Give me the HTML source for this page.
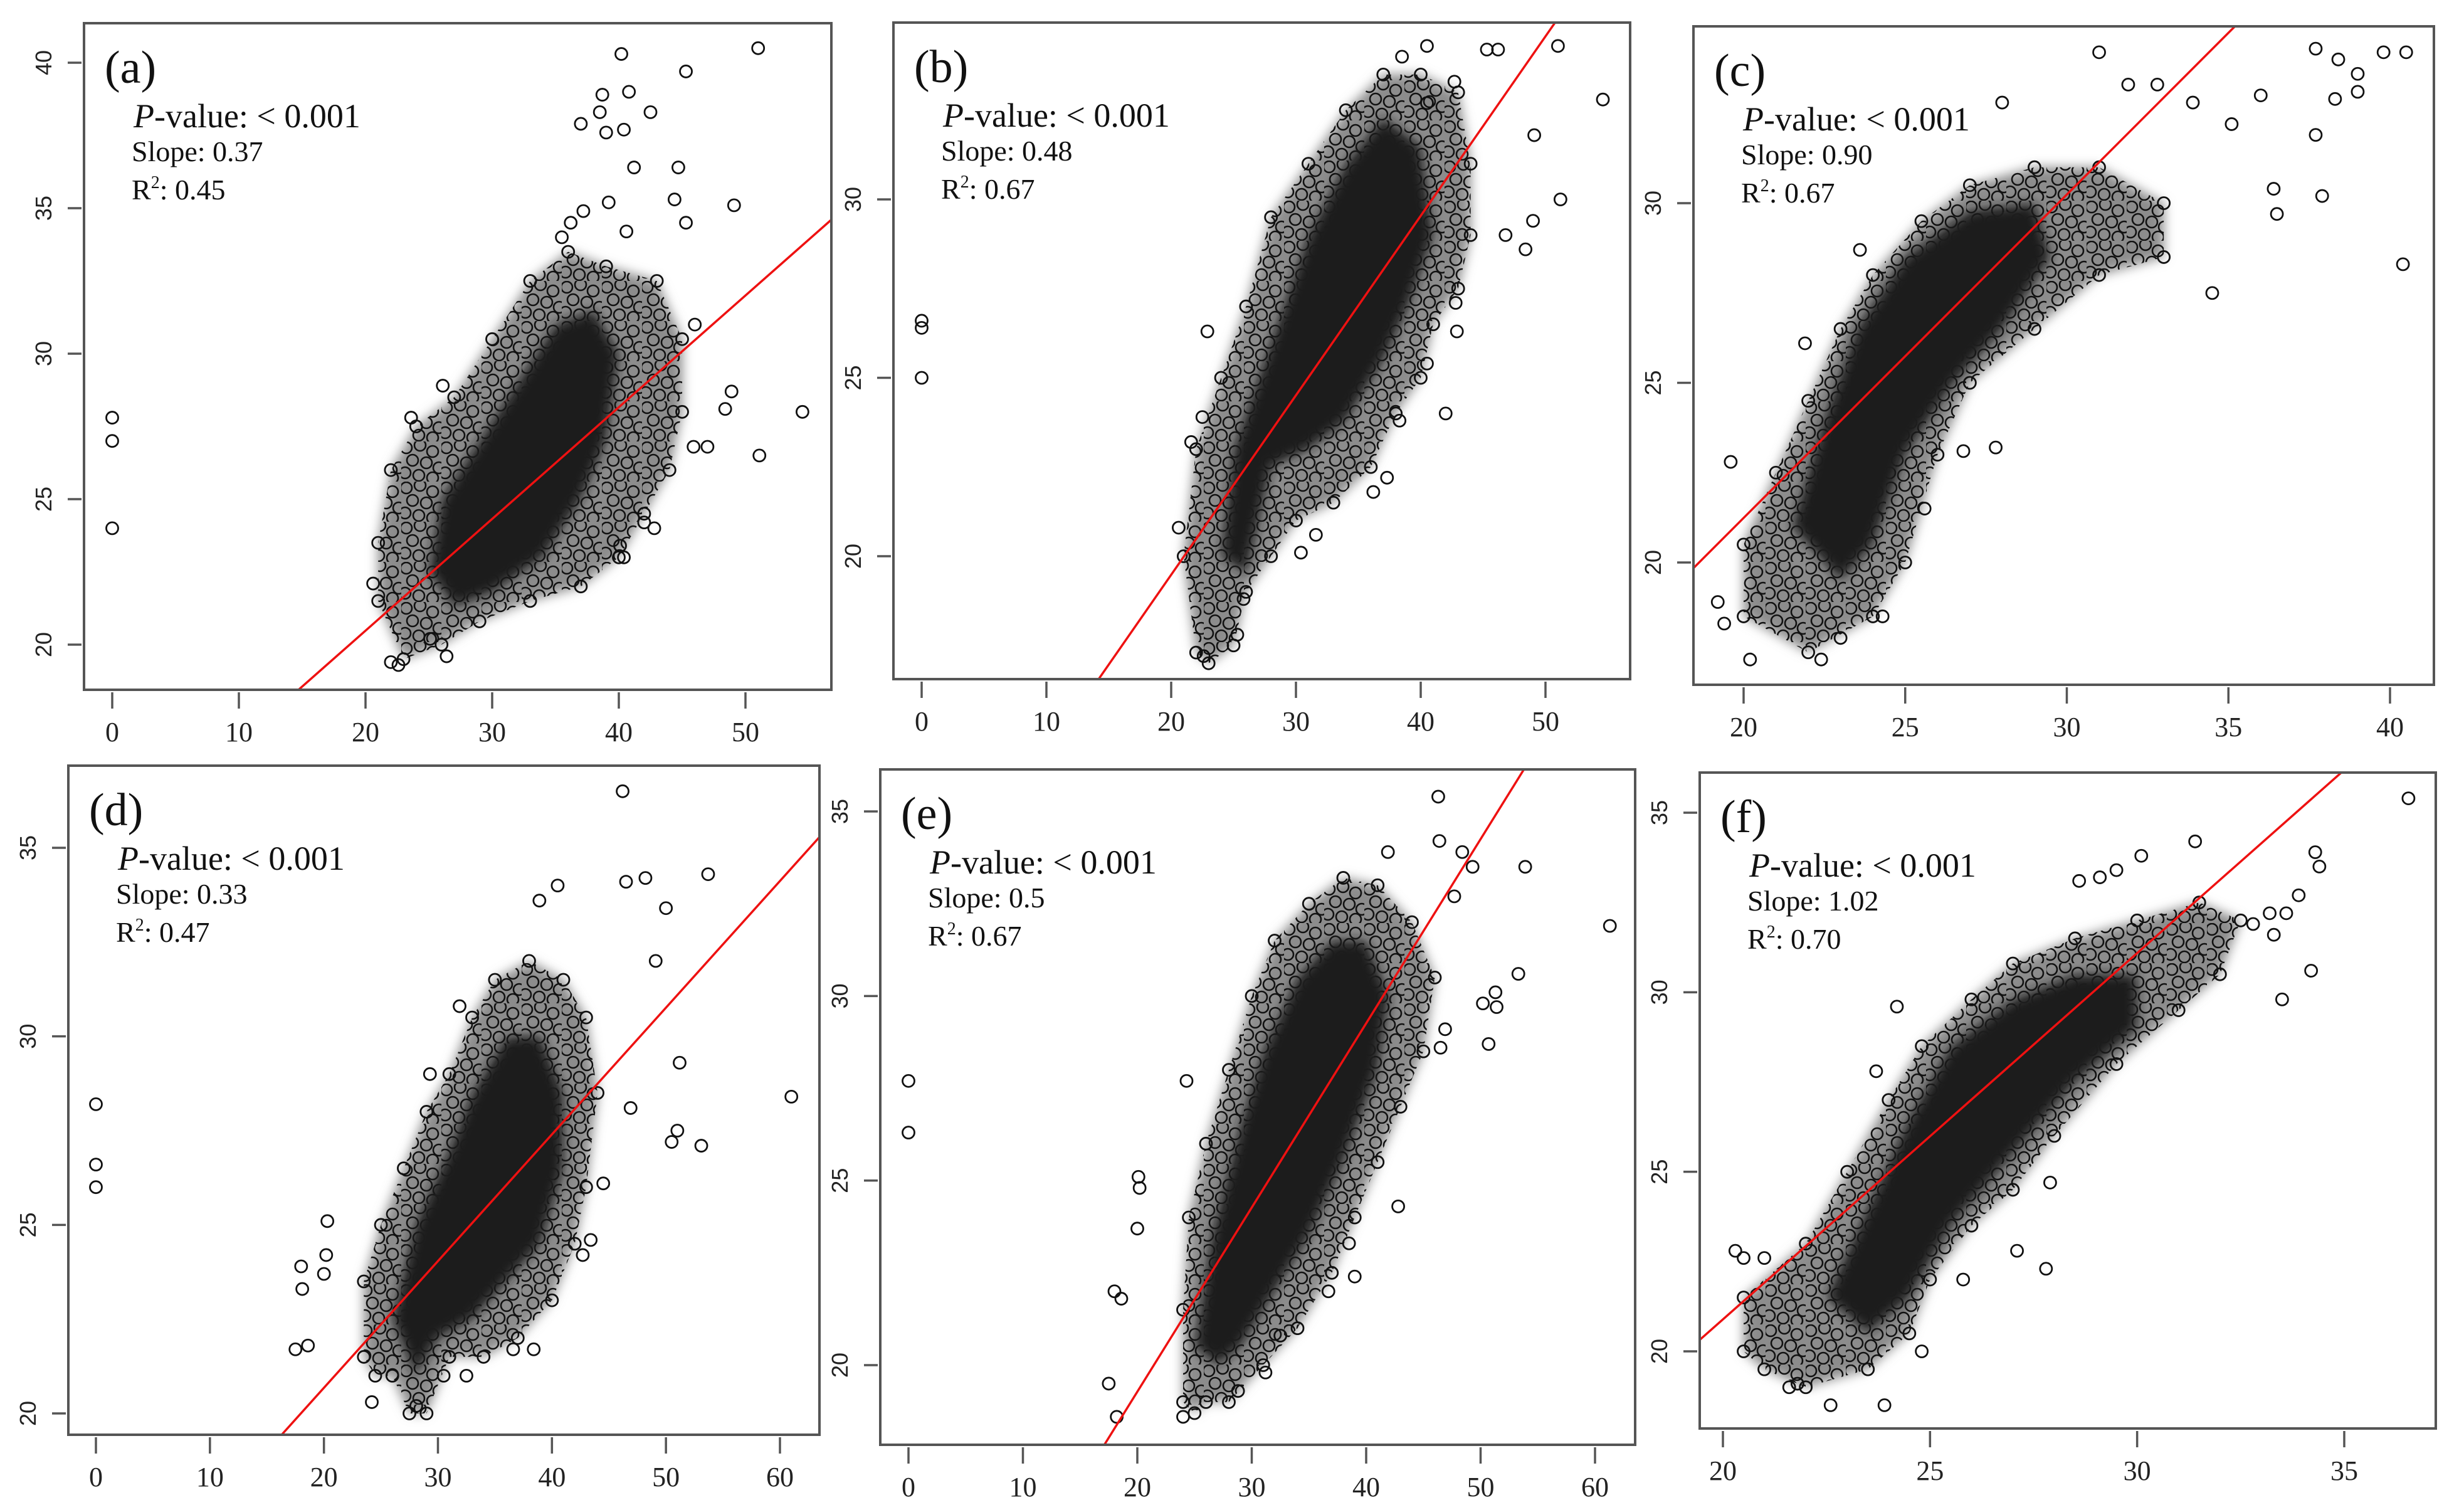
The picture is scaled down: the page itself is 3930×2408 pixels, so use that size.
<!DOCTYPE html>
<html><head><meta charset="utf-8"><style>
html,body{margin:0;padding:0;background:#fff;width:3930px;height:2408px;overflow:hidden;}
svg{display:block;}
.tk{font-family:"Liberation Serif",serif;font-size:44px;fill:#222;}
.yt{font-family:"Liberation Sans",sans-serif;font-size:36px;fill:#222;}
.ann{font-family:"Liberation Serif",serif;fill:#111;}
</style></head><body>
<svg id="fig" xmlns="http://www.w3.org/2000/svg" width="3930" height="2408" viewBox="0 0 3930 2408">
<defs>
<filter id="soft" x="-10%" y="-10%" width="120%" height="120%"><feGaussianBlur stdDeviation="9"/></filter>
<pattern id="rings" width="64" height="64" patternUnits="userSpaceOnUse">
<g fill="none" stroke="#111" stroke-width="2.6">
<circle cx="8" cy="10" r="9"/><circle cx="30" cy="6" r="9"/><circle cx="50" cy="16" r="9"/>
<circle cx="18" cy="30" r="9"/><circle cx="40" cy="34" r="9"/><circle cx="60" cy="42" r="9"/>
<circle cx="6" cy="50" r="9"/><circle cx="28" cy="54" r="9"/><circle cx="50" cy="58" r="9"/>
</g></pattern>
</defs>
</svg>
<script>
// ---- data (data units) ----
const panelLabels = ["(a)","(b)","(c)","(d)","(e)","(f)"];
const slopeTexts = ["0.37","0.48","0.90","0.33","0.5","1.02"];
const r2Texts = ["0.45","0.67","0.67","0.47","0.67","0.70"];
const fitSlopes = [0.384,0.503,0.90,0.336,0.499,1.02];
const fitIntercepts = [12.8,9.42,3.24,13.96,9.3,0.49];
const xTicksA=[0,10,20,30,40,50], yTicksA=[20,25,30,35,40];
const xTicksB=[0,10,20,30,40,50], yTicksB=[20,25,30];
const xTicksC=[20,25,30,35,40], yTicksC=[20,25,30];
const xTicksD=[0,10,20,30,40,50,60], yTicksD=[20,25,30,35];
const xTicksE=[0,10,20,30,40,50,60], yTicksE=[20,25,30,35];
const xTicksF=[20,25,30,35], yTicksF=[20,25,30,35];

const outA=[[0,27.8],[0,27],[0,24],[40.2,40.3],[51,40.5],[45.3,39.7],[38.7,38.9],[40.8,39],[37,37.9],[38.5,38.3],[40.4,37.7],[39,37.6],[42.5,38.3],[41.2,36.4],[44.7,36.4],[44.4,35.3],[49.1,35.1],[45.3,34.5],[54.5,28],[51.1,26.5],[48.4,28.1],[48.9,28.7],[45.9,26.8],[47,26.8],[25.1,20.2],[26.4,19.6],[22,19.4],[22.6,19.3],[20.6,22.1],[26.1,28.9],[23.6,27.8],[42,24.2],[42.8,24],[40.4,23],[40.1,23.4],[46,31],[36.2,34.5],[37.2,34.9],[35.5,34],[39.2,35.2],[40.6,34.2]];
const hullA=[[21,23.5],[22,26],[24,27.5],[27,28.5],[30,30.5],[33,32.5],[36,33.5],[39,33],[43,32.5],[45,30.5],[45,28],[44,26],[42,24.5],[40,23],[37,22],[33,21.5],[29,20.8],[26,20],[23,19.5],[21,21.5]];
const coreA=[[25,22.5],[26,25],[29,27],[32,29],[35,31],[38,31.5],[40,30],[39,27],[37,25],[34,23],[30,21.8],[27,21.3]];

const outB=[[0,26.6],[0,26.4],[0,25],[40.5,34.3],[45.3,34.2],[46.2,34.2],[51,34.3],[54.6,32.8],[49.1,31.8],[51.2,30],[48.4,28.6],[49,29.4],[46.8,29],[42,24],[38.3,23.8],[37.3,22.2],[36.2,21.8],[31.6,20.6],[30.4,20.1],[25.3,17.8],[25.8,18.8],[38.5,34],[40.5,32.7],[42.7,33.3],[40.5,25.4],[42.9,26.3],[42.8,27.1],[22.9,26.3],[22.5,23.9],[20.6,20.8],[22.6,17.2],[21.6,23.2]];
const hullB=[[22,17.3],[21,20],[22,23],[24,25],[26,27],[28,29.5],[31,31],[34,32.5],[37,33.5],[40,33.5],[43,33],[44,31],[44,29],[43,27.5],[41,26.5],[40,25],[38,24],[36,22.5],[33,21.5],[30,21],[28,20],[26,19],[25,17.5],[23,17]];
const coreB=[[24,20],[25,23],[28,26],[31,29],[34,31],[37,32.3],[40,31.5],[41,29],[39,27],[37,25.5],[34,23.8],[31,23],[28,22.5],[27,21],[26,19.5]];

const outC=[[31,34.2],[37.7,34.3],[39.8,34.2],[40.5,34.2],[38.4,34],[39,33.6],[38.3,32.9],[39,33.1],[36,33],[37.7,31.9],[36.4,30.4],[36.5,29.7],[37.9,30.2],[40.4,28.3],[34.5,27.5],[33.9,32.8],[35.1,32.2],[31.9,33.3],[32.8,33.3],[28,32.8],[19.6,22.8],[19.4,18.3],[20.2,17.3],[22.4,17.3],[23,17.9],[24.3,18.5],[27.8,23.2],[26.8,23.1],[25.6,21.5],[19.2,18.9],[21.9,26.1],[23.6,28.7]];
const hullC=[[20,18.5],[20,20.5],[21,22.5],[22,24.5],[23,26.5],[24,28],[25.5,29.5],[27,30.5],[29,31],[31,31],[33,30],[33,28.5],[31,28],[29,26.5],[27,25],[26,23],[25,20],[24,18.5],[22,17.5]];
const coreC=[[21.5,21],[22.5,24],[23.5,26.5],[25,28.5],[27,29.8],[29,30],[29.5,28.5],[28,26.5],[26.5,25],[25,23],[24,20.5],[23,19.5]];

const outD=[[0,28.2],[0,26.6],[0,26],[46.2,36.5],[53.7,34.3],[46.5,34.1],[48.2,34.2],[50,33.4],[40.5,34],[38.9,33.6],[51.2,29.3],[61,28.4],[50.5,27.2],[51,27.5],[53.1,27.1],[20.3,25.1],[20.2,24.2],[20,23.7],[18,23.9],[18.1,23.3],[17.5,21.7],[18.6,21.8],[36.6,21.7],[38.4,21.7],[24.2,20.3],[43.4,24.6],[42.7,24.2],[31.9,30.8],[29.3,29],[49.1,32],[46.9,28.1],[44.5,26.1],[30.5,21],[32.5,21],[28.1,20.2]];
const hullD=[[23.5,21.5],[23.5,23.5],[25,25],[27,26.5],[29,28],[31,29],[33,30.5],[35,31.5],[38,32],[41,31.5],[43,30.5],[44,28.5],[43,26],[42,24.5],[40,23],[37,22],[34,21.5],[31,21.5],[29,20],[27.5,20],[26,21],[24.5,21]];
const coreD=[[26,22.5],[28,25],[31,27],[33,28.5],[36,30],[39,30],[41,28.5],[41,26.5],[39,24.5],[36,23.5],[33,22.5],[30,22],[28,21]];

const outE=[[0,27.7],[0,26.3],[18,22],[18.6,21.8],[17.5,19.5],[18.2,18.6],[20,23.7],[20.1,25.1],[20.2,24.8],[24.3,27.7],[24,18.6],[46.3,35.4],[46.4,34.2],[41.9,33.9],[48.4,33.9],[49.3,33.5],[53.9,33.5],[61.3,31.9],[53.3,30.6],[51.3,30.1],[50.2,29.8],[51.4,29.7],[50.7,28.7],[42.8,24.3],[39,22.4],[36.7,22],[31.2,19.8],[28.8,19.3],[38.5,23.3],[32.5,20.8],[46.9,29.1],[46.5,28.6],[47.7,32.7]];
const hullE=[[24,19],[24,21.5],[24.5,24],[26,26],[28,28],[30,30],[32,31.5],[35,32.5],[38,33.2],[41,33],[44,32],[46,30.5],[45,28.5],[43,27],[41,25.5],[39,24],[37,22.5],[34,21],[31,20],[28,19],[26,19],[25,18.7]];
const coreE=[[25,20.5],[26.5,23.5],[29,26.5],[31,28.5],[34,30.5],[37,31.5],[40,31.5],[42,30],[41,28],[38,25.5],[35,23.5],[32,22],[29,20.5],[27,20]];

const outF=[[36.55,35.4],[31.4,34.2],[30.1,33.8],[34.3,33.9],[34.4,33.5],[28.6,33.1],[29.1,33.2],[29.5,33.4],[33.9,32.7],[34.2,30.6],[33.5,29.8],[33.3,31.6],[33.6,32.2],[33.2,32.2],[32.8,31.9],[24.2,29.6],[23.7,27.8],[20.3,22.8],[20.5,22.6],[21,22.6],[22.6,18.5],[23.9,18.5],[27.8,22.3],[27.1,22.8],[27.9,24.7],[25.8,22],[24.8,20],[21.8,19.1],[21.6,19]];
const hullF=[[20.5,20],[20.5,21.5],[22,23],[23,25],[24,27],[24.8,28.5],[26,29.8],[27,30.8],[28.5,31.5],[30,32],[31.5,32.5],[32.5,32],[32,30.5],[31,29.5],[29.5,28],[28,26],[27,24.5],[26,23.5],[25,22],[24.5,20.5],[23.5,19.5],[22,19],[21,19.5]];
const coreF=[[22.5,21.5],[23.5,24],[24.5,26.5],[25.5,28.5],[27,29.8],[28.5,30.5],[30,30.5],[30,29],[28.5,27.5],[27,25.5],[25.5,23.5],[24.5,21.5],[23.5,20.5]];

// ---- layout (pixels) ----
const layout=[
 {box:[134,37,1326,1100], xa:[0,179,50,1189], ya:[40,100,20,1028], xt:xTicksA, yt:yTicksA, out:outA, hull:hullA, core:coreA},
 {box:[1425,36,2600,1083], xa:[0,1470,50,2465], ya:[30,318,20,887], xt:xTicksB, yt:yTicksB, out:outB, hull:hullB, core:coreB},
 {box:[2701,42,3882,1092], xa:[20,2781,40,3812], ya:[30,324,20,897], xt:xTicksC, yt:yTicksC, out:outC, hull:hullC, core:coreC},
 {box:[109,1221,1307,2288], xa:[0,153,60,1244], ya:[35,1352,20,2254], xt:xTicksD, yt:yTicksD, out:outD, hull:hullD, core:coreD},
 {box:[1404,1227,2608,2304], xa:[0,1449,60,2544], ya:[35,1294,20,2177], xt:xTicksE, yt:yTicksE, out:outE, hull:hullE, core:coreE},
 {box:[2711,1232,3885,2278], xa:[20,2748,35,3739], ya:[35,1296,20,2155], xt:xTicksF, yt:yTicksF, out:outF, hull:hullF, core:coreF}
];
const NS="http://www.w3.org/2000/svg";
const fig=document.getElementById('fig');
function mk(tag,attrs,parent){const e=document.createElementNS(NS,tag);for(const k in attrs)e.setAttribute(k,attrs[k]);parent.appendChild(e);return e;}

layout.forEach((P,i)=>{
  const [L,T,R,B]=P.box;
  const sx=v=>P.xa[1]+(v-P.xa[0])*(P.xa[3]-P.xa[1])/(P.xa[2]-P.xa[0]);
  const sy=v=>P.ya[1]+(v-P.ya[0])*(P.ya[3]-P.ya[1])/(P.ya[2]-P.ya[0]);
  const ix=p=>P.xa[0]+(p-P.xa[1])*(P.xa[2]-P.xa[0])/(P.xa[3]-P.xa[1]);
  const g=mk('g',{},fig);
  
  
  const cid='clip'+i;
  const cp=mk('clipPath',{id:cid},g); mk('rect',{x:L,y:T,width:R-L,height:B-T},cp);
  const plot=mk('g',{'clip-path':'url(#'+cid+')'},g);
  const hullPts=P.hull.map(p=>sx(p[0])+','+sy(p[1])).join(' ');
  const hp=mk('polygon',{points:hullPts,fill:'#8c8c8c',filter:'url(#soft)'},plot);
  
  
  const hr=mk('polygon',{points:hullPts,fill:'url(#rings)','stroke':'none'},plot);
  
  
  const cpoly=mk('polygon',{points:P.core.map(p=>sx(p[0])+','+sy(p[1])).join(' '),fill:'#1a1a1a',filter:'url(#soft)'},plot);
  
  
  P.hull.forEach(p=>{
    const c=mk('circle',{cx:sx(p[0]),cy:sy(p[1]),r:9.5,fill:'none',stroke:'#111','stroke-width':2.8},plot);
    
    
  });
  P.out.forEach(p=>{
    const c=mk('circle',{cx:sx(p[0]),cy:sy(p[1]),r:9.5,fill:'none',stroke:'#111','stroke-width':2.8},plot);
    
    
  });
  const x1=ix(L), x2=ix(R);
  const ln=mk('line',{x1:sx(x1),y1:sy(fitIntercepts[i]+fitSlopes[i]*x1),x2:sx(x2),y2:sy(fitIntercepts[i]+fitSlopes[i]*x2),stroke:'#ee1111','stroke-width':3.5},plot);
  
  
  const bx=mk('rect',{x:L,y:T,width:R-L,height:B-T,fill:'none',stroke:'#555','stroke-width':4},g);
  
  
  P.xt.forEach(v=>{
    const t=mk('line',{x1:sx(v),x2:sx(v),y1:B+4,y2:B+30,stroke:'#555','stroke-width':3.5},g);
    
    
    const lb=mk('text',{x:sx(v),y:B+82,'text-anchor':'middle',class:'tk'},g);
    lb.textContent=v;
    
    
  });
  P.yt.forEach(v=>{
    const t=mk('line',{x1:L-4,x2:L-26,y1:sy(v),y2:sy(v),stroke:'#555','stroke-width':3.5},g);
    
    
    const yy=sy(v), xx=L-52;
    const lb=mk('text',{x:xx,y:yy,'text-anchor':'middle',transform:'rotate(-90 '+xx+' '+yy+')',class:'yt'},g);
    lb.textContent=v;
    
    
  });
  const pl=mk('text',{x:L+33,y:T+95,class:'ann','font-size':74},g);
  pl.textContent=panelLabels[i];
  
  
  const pv=mk('text',{x:L+79,y:T+166,class:'ann','font-size':54},g);
  pv.innerHTML='<tspan font-style="italic">P</tspan>-value: &lt; 0.001';
  
  
  const sl=mk('text',{x:L+76,y:T+220,class:'ann','font-size':46},g);
  sl.textContent='Slope: '+slopeTexts[i];
  
  
  const r2=mk('text',{x:L+76,y:T+281,class:'ann','font-size':46},g);
  r2.innerHTML='R<tspan font-size="28" dy="-18">2</tspan><tspan dy="18">: '+r2Texts[i]+'</tspan>';
  
  
});
</script>
</body></html>
